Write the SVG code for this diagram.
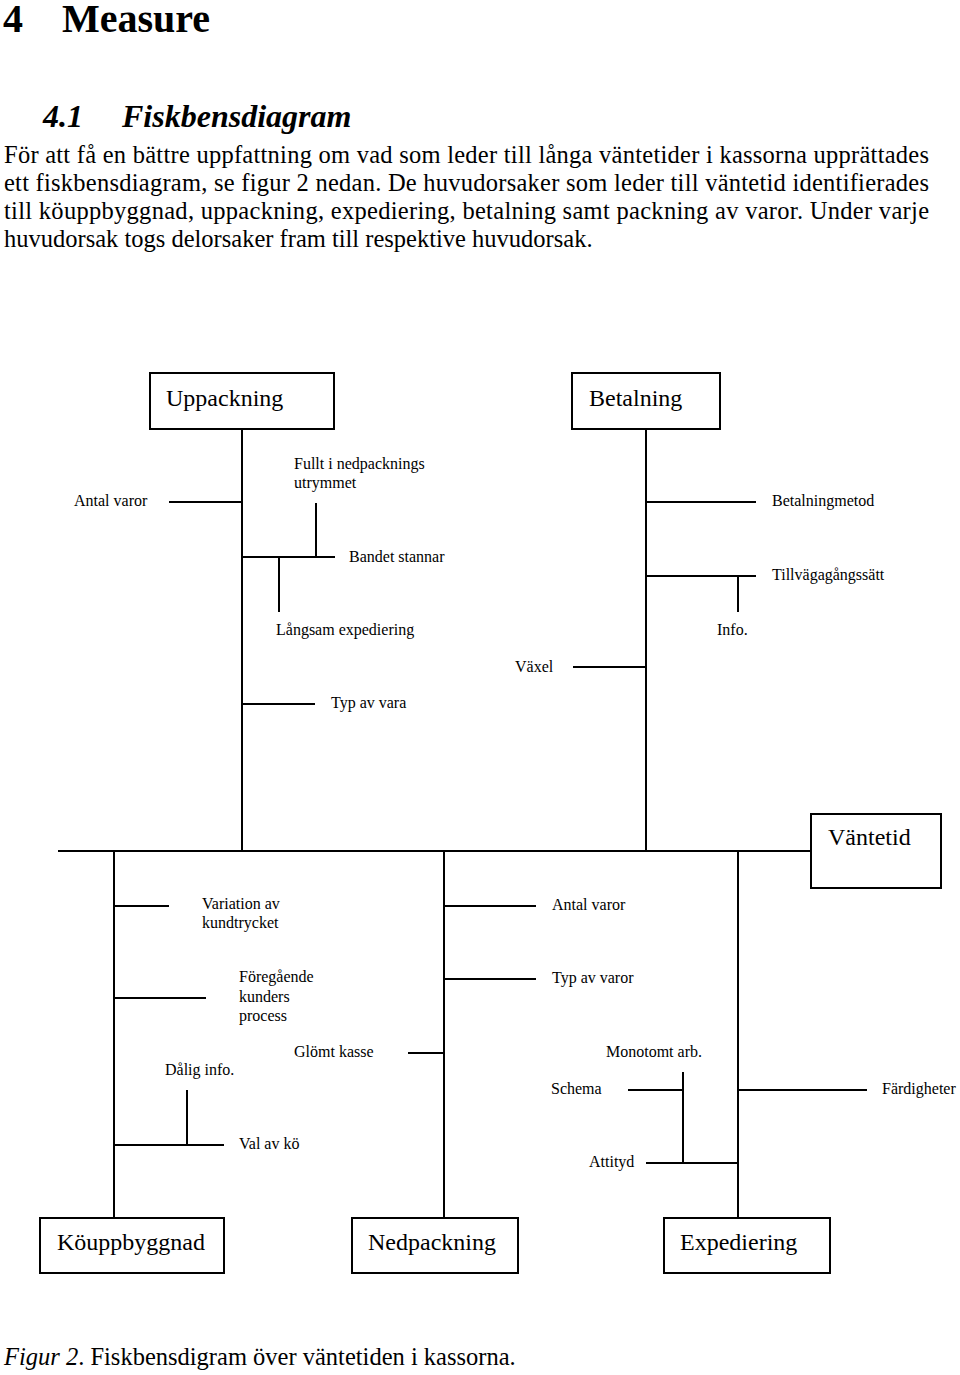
<svg xmlns="http://www.w3.org/2000/svg" width="960" height="1375" viewBox="0 0 960 1375">
<style>
text{font-family:"Liberation Serif","Times New Roman",serif;fill:#000}
.h1{font-size:40px;font-weight:bold}
.h2{font-size:32px;font-weight:bold;font-style:italic}
.body{font-size:24.5px}
.big{font-size:24px}
.sm{font-size:16px}
.box{fill:#fff;stroke:#000;stroke-width:2}
#connectors line{stroke:#000;stroke-width:2}
</style>
<rect width="960" height="1375" fill="#fff"/>
<g id="heading">
<text class="h1" x="3" y="32">4</text>
<text class="h1" x="62" y="32">Measure</text>
<text class="h2" x="43" y="127">4.1</text>
<text class="h2" x="122" y="127">Fiskbensdiagram</text>
</g>
<g id="paragraph" class="body">
<text class="body" x="4" y="163" textLength="925" lengthAdjust="spacing">För att få en bättre uppfattning om vad som leder till långa väntetider i kassorna upprättades</text>
<text class="body" x="4" y="191" textLength="925" lengthAdjust="spacing">ett fiskbensdiagram, se figur 2 nedan. De huvudorsaker som leder till väntetid identifierades</text>
<text class="body" x="4" y="219" textLength="925" lengthAdjust="spacing">till köuppbyggnad, uppackning, expediering, betalning samt packning av varor. Under varje</text>
<text class="body" x="4" y="247">huvudorsak togs delorsaker fram till respektive huvudorsak.</text>
</g>
<g id="connectors">
<line x1="58" y1="851" x2="811" y2="851"/>
<line x1="242" y1="429" x2="242" y2="851"/>
<line x1="169" y1="502" x2="242" y2="502"/>
<line x1="242" y1="557" x2="335" y2="557"/>
<line x1="316" y1="503" x2="316" y2="557"/>
<line x1="279" y1="557" x2="279" y2="612"/>
<line x1="242" y1="704" x2="315" y2="704"/>
<line x1="646" y1="429" x2="646" y2="851"/>
<line x1="646" y1="502" x2="756" y2="502"/>
<line x1="646" y1="576" x2="756" y2="576"/>
<line x1="738" y1="576" x2="738" y2="612"/>
<line x1="573" y1="667" x2="646" y2="667"/>
<line x1="114" y1="851" x2="114" y2="1218"/>
<line x1="114" y1="906" x2="169" y2="906"/>
<line x1="114" y1="998" x2="206" y2="998"/>
<line x1="114" y1="1145" x2="224" y2="1145"/>
<line x1="187" y1="1090" x2="187" y2="1145"/>
<line x1="444" y1="851" x2="444" y2="1218"/>
<line x1="444" y1="906" x2="536" y2="906"/>
<line x1="444" y1="979" x2="536" y2="979"/>
<line x1="408" y1="1053" x2="444" y2="1053"/>
<line x1="738" y1="851" x2="738" y2="1218"/>
<line x1="738" y1="1090" x2="867" y2="1090"/>
<line x1="646" y1="1163" x2="738" y2="1163"/>
<line x1="683" y1="1072" x2="683" y2="1163"/>
<line x1="628" y1="1090" x2="683" y2="1090"/>
</g>
<g id="node-uppackning">
<rect class="box" x="150" y="373" width="184" height="56"/>
<text class="big" x="166" y="406">Uppackning</text>
</g>
<g id="node-betalning">
<rect class="box" x="572" y="373" width="148" height="56"/>
<text class="big" x="589" y="406">Betalning</text>
</g>
<g id="node-vantetid">
<rect class="box" x="811" y="814" width="130" height="74"/>
<text class="big" x="828" y="845">Väntetid</text>
</g>
<g id="node-kouppbyggnad">
<rect class="box" x="40" y="1218" width="184" height="55"/>
<text class="big" x="57" y="1250">Köuppbyggnad</text>
</g>
<g id="node-nedpackning">
<rect class="box" x="352" y="1218" width="166" height="55"/>
<text class="big" x="368" y="1250">Nedpackning</text>
</g>
<g id="node-expediering">
<rect class="box" x="664" y="1218" width="166" height="55"/>
<text class="big" x="680" y="1250">Expediering</text>
</g>
<g id="causes-uppackning">
<text class="sm" x="74" y="506">Antal varor</text>
<text class="sm" x="294" y="469">Fullt i nedpacknings</text>
<text class="sm" x="294" y="488">utrymmet</text>
<text class="sm" x="349" y="562">Bandet stannar</text>
<text class="sm" x="276" y="635">Långsam expediering</text>
<text class="sm" x="331" y="708">Typ av vara</text>
</g>
<g id="causes-betalning">
<text class="sm" x="772" y="506">Betalningmetod</text>
<text class="sm" x="772" y="580">Tillvägagångssätt</text>
<text class="sm" x="717" y="635">Info.</text>
<text class="sm" x="515" y="672">Växel</text>
</g>
<g id="causes-kouppbyggnad">
<text class="sm" x="202" y="909">Variation av</text>
<text class="sm" x="202" y="928">kundtrycket</text>
<text class="sm" x="239" y="982">Föregående</text>
<text class="sm" x="239" y="1002">kunders</text>
<text class="sm" x="239" y="1021">process</text>
<text class="sm" x="165" y="1075">Dålig info.</text>
<text class="sm" x="239" y="1149">Val av kö</text>
</g>
<g id="causes-nedpackning">
<text class="sm" x="552" y="910">Antal varor</text>
<text class="sm" x="552" y="983">Typ av varor</text>
<text class="sm" x="294" y="1057">Glömt kasse</text>
</g>
<g id="causes-expediering">
<text class="sm" x="606" y="1057">Monotomt arb.</text>
<text class="sm" x="551" y="1094">Schema</text>
<text class="sm" x="882" y="1094">Färdigheter</text>
<text class="sm" x="589" y="1167">Attityd</text>
</g>
<g id="caption">
<text class="body" x="4" y="1365"><tspan font-style="italic">Figur 2</tspan>. Fiskbensdigram över väntetiden i kassorna.</text>
</g>
</svg>
